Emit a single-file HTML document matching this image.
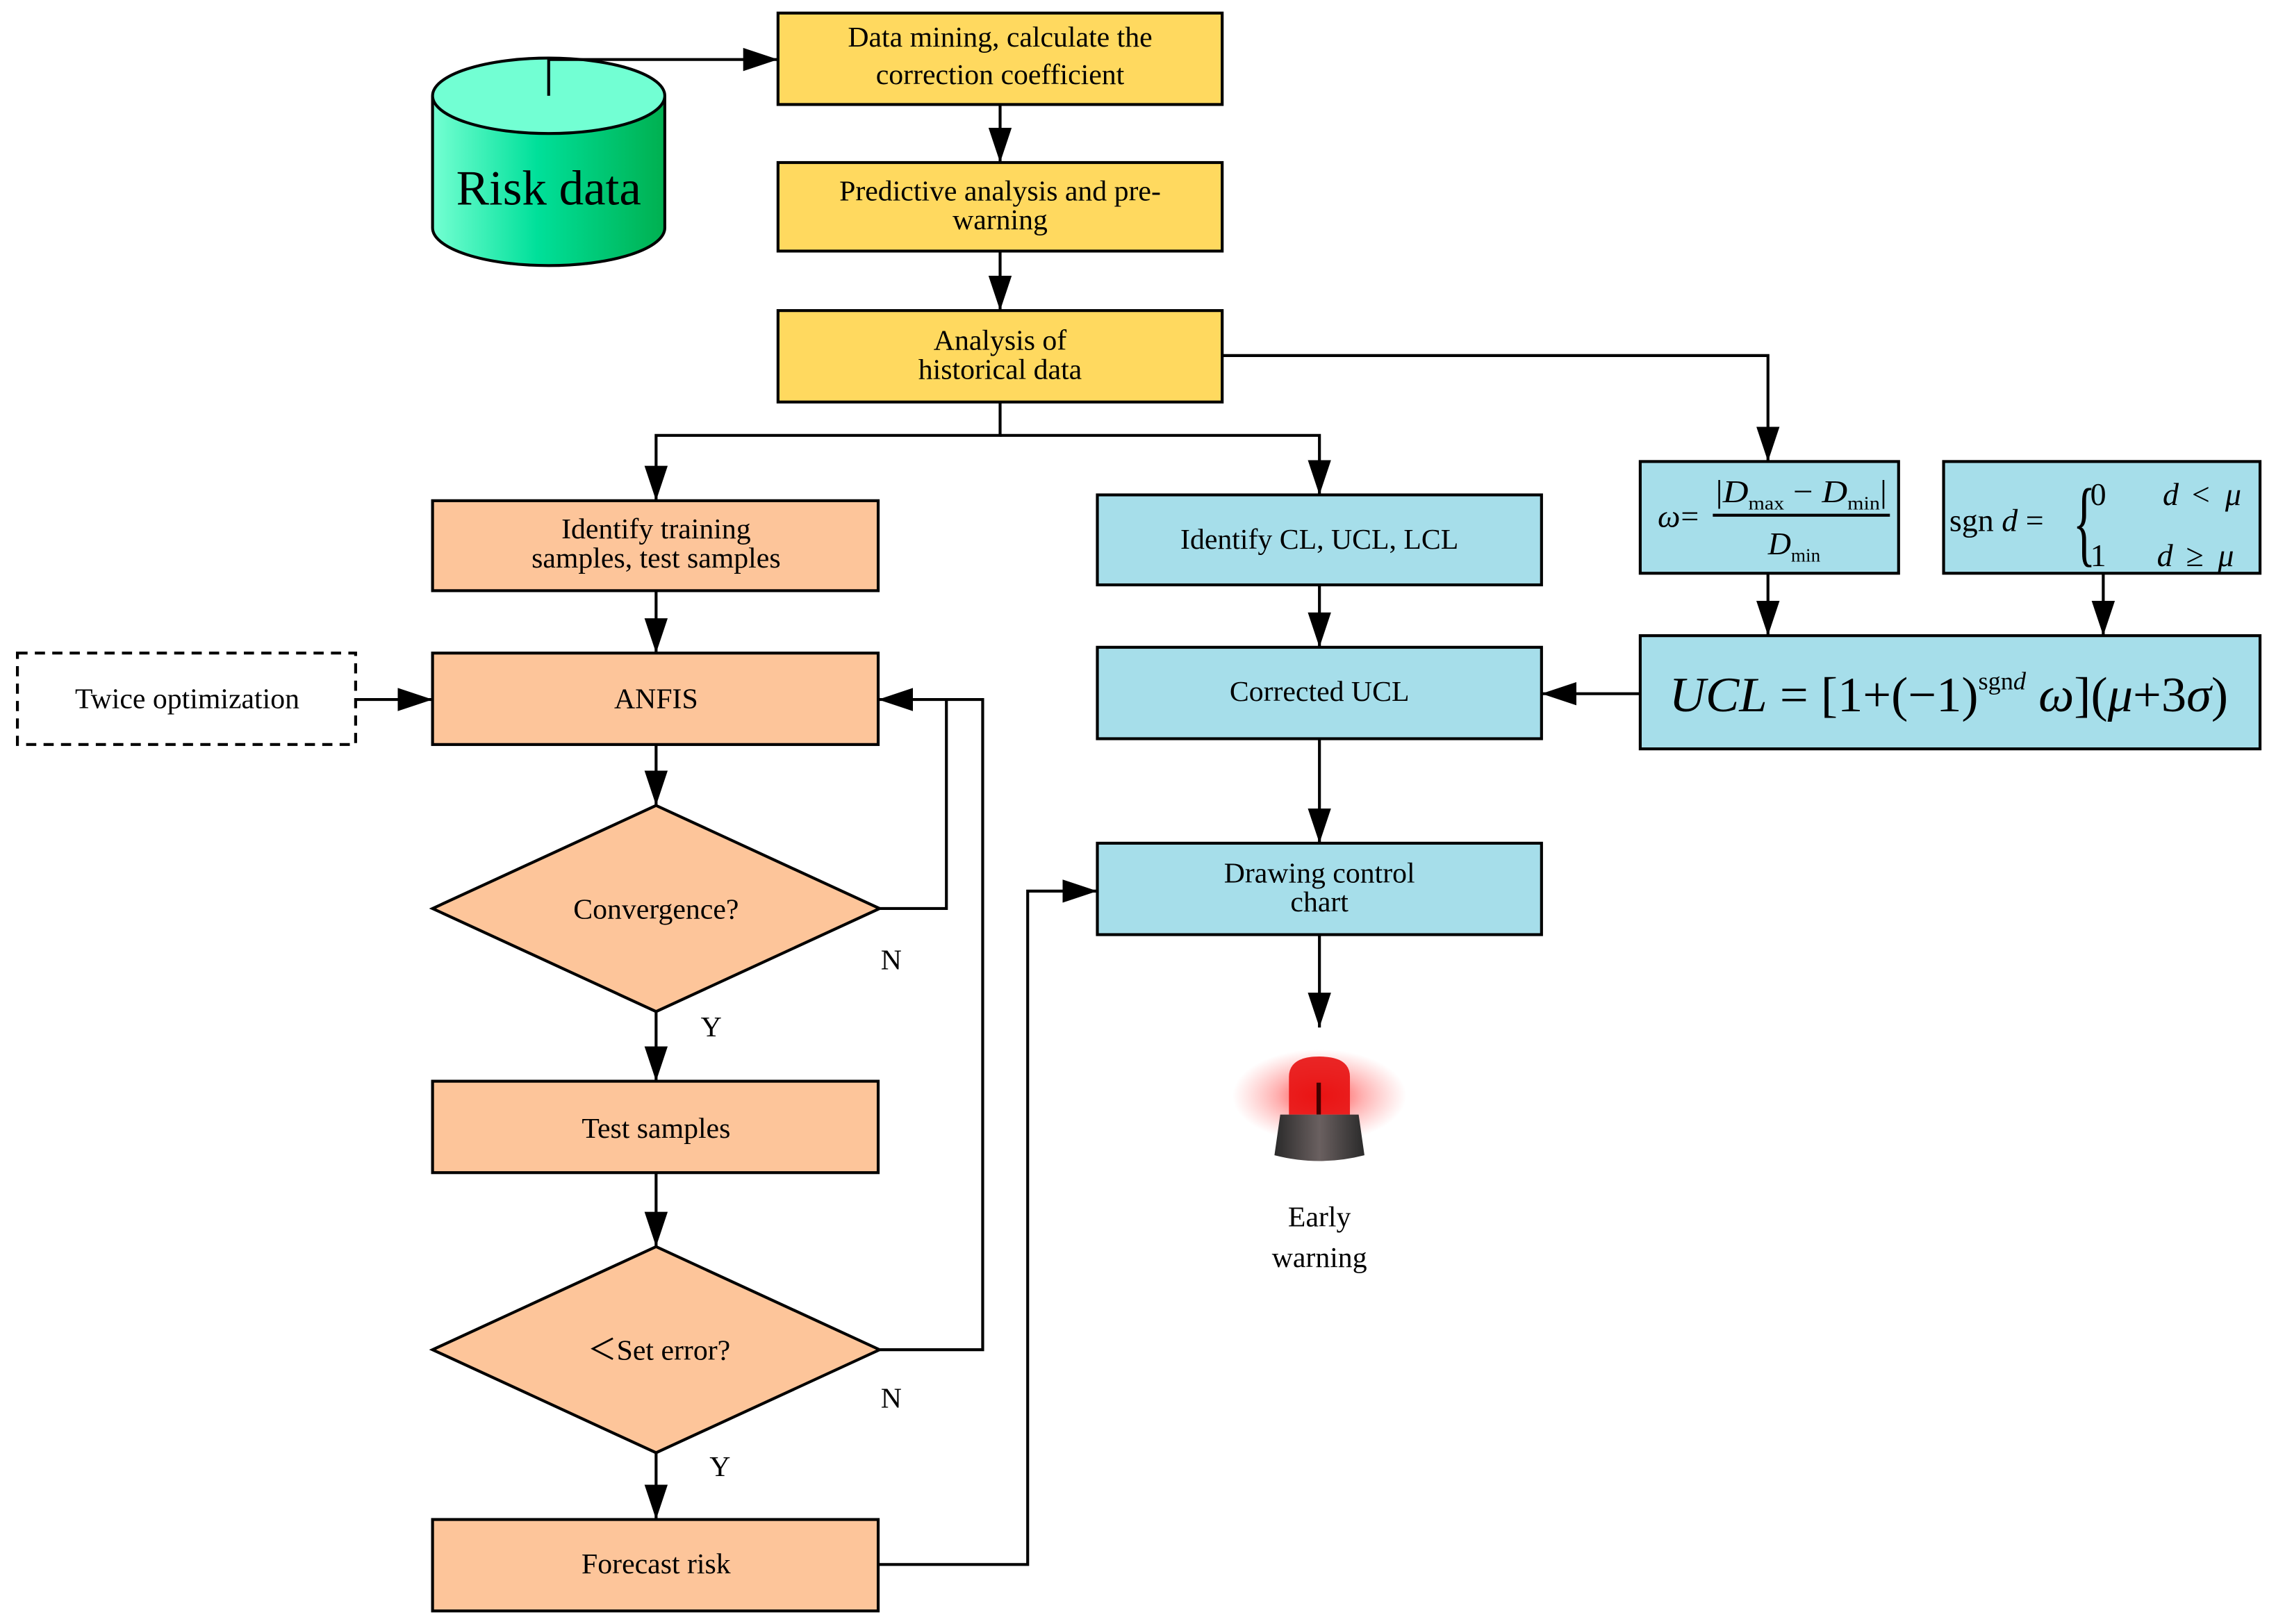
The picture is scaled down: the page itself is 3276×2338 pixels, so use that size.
<!DOCTYPE html>
<html><head><meta charset="utf-8"><style>
html,body{margin:0;padding:0;background:#fff;}
svg{display:block;}
text{font-family:"Liberation Serif",serif;fill:#000;}
</style></head><body>
<svg width="3276" height="2338" viewBox="0 0 1568 1119" preserveAspectRatio="none" xmlns="http://www.w3.org/2000/svg">
<defs>
<marker id="a" viewBox="0 0 24 16" refX="24" refY="8" markerWidth="24" markerHeight="16" markerUnits="userSpaceOnUse" orient="auto"><path d="M0,0 L24,8 L0,16 z" fill="#000"/></marker>
<linearGradient id="cyl" x1="0" x2="1" y1="0" y2="0">
<stop offset="0" stop-color="#74FFD2"/><stop offset="0.45" stop-color="#00E09A"/><stop offset="1" stop-color="#00B050"/></linearGradient>
<radialGradient id="glow" cx="0.5" cy="0.5" r="0.5"><stop offset="0" stop-color="#ff2020" stop-opacity="0.9"/><stop offset="0.5" stop-color="#ff4040" stop-opacity="0.4"/><stop offset="1" stop-color="#ff6060" stop-opacity="0"/></radialGradient>
<linearGradient id="base" x1="0" x2="1"><stop offset="0" stop-color="#2a2a2a"/><stop offset="0.5" stop-color="#6a6060"/><stop offset="1" stop-color="#2a2a2a"/></linearGradient>
</defs>
<g stroke="#000" stroke-width="2" fill="none">
<path d="M298,66 L298,157 A80,26 0 0 0 458,157 L458,66" fill="url(#cyl)"/>
<ellipse cx="378" cy="66" rx="80" ry="26" fill="#72FFD3"/>
<path d="M378,66 L378,41 L536,41" marker-end="url(#a)"/>
<rect x="536" y="9" width="306" height="63" fill="#FFD95F"/>
<rect x="536" y="112" width="306" height="61" fill="#FFD95F"/>
<rect x="536" y="214" width="306" height="63" fill="#FFD95F"/>
<path d="M689,72 L689,112" marker-end="url(#a)"/>
<path d="M689,173 L689,214" marker-end="url(#a)"/>
<path d="M842,245 L1218,245 L1218,318" marker-end="url(#a)"/>
<path d="M689,277 L689,300 L452,300 L452,345" marker-end="url(#a)"/>
<path d="M689,300 L909,300 L909,341" marker-end="url(#a)"/>
<rect x="298" y="345" width="307" height="62" fill="#FDC59A"/>
<rect x="298" y="450" width="307" height="63" fill="#FDC59A"/>
<rect x="12" y="450" width="233" height="63" fill="#fff" stroke-dasharray="7,5"/>
<path d="M245,482 L298,482" marker-end="url(#a)"/>
<path d="M452,407 L452,450" marker-end="url(#a)"/>
<path d="M452,513 L452,555" marker-end="url(#a)"/>
<polygon points="452,555 606,626 452,697 298,626" fill="#FDC59A"/>
<path d="M606,626 L652,626 L652,482 L605,482" marker-end="url(#a)"/>
<path d="M452,697 L452,745" marker-end="url(#a)"/>
<rect x="298" y="745" width="307" height="63" fill="#FDC59A"/>
<path d="M452,808 L452,859" marker-end="url(#a)"/>
<polygon points="452,859 606,930 452,1001 298,930" fill="#FDC59A"/>
<path d="M606,930 L677,930 L677,482 L652,482"/>
<path d="M452,1001 L452,1047" marker-end="url(#a)"/>
<rect x="298" y="1047" width="307" height="63" fill="#FDC59A"/>
<path d="M605,1078 L708,1078 L708,614 L756,614" marker-end="url(#a)"/>
<rect x="756" y="341" width="306" height="62" fill="#A6DEEA"/>
<rect x="756" y="446" width="306" height="63" fill="#A6DEEA"/>
<rect x="756" y="581" width="306" height="63" fill="#A6DEEA"/>
<rect x="1130" y="318" width="178" height="77" fill="#A6DEEA"/>
<rect x="1339" y="318" width="218" height="77" fill="#A6DEEA"/>
<rect x="1130" y="438" width="427" height="78" fill="#A6DEEA"/>
<path d="M909,403 L909,446" marker-end="url(#a)"/>
<path d="M909,509 L909,581" marker-end="url(#a)"/>
<path d="M909,644 L909,708" marker-end="url(#a)"/>
<path d="M1218,395 L1218,438" marker-end="url(#a)"/>
<path d="M1449,395 L1449,438" marker-end="url(#a)"/>
<path d="M1130,478 L1062,478" marker-end="url(#a)"/>
</g>
<ellipse cx="909" cy="755" rx="60" ry="32" fill="url(#glow)"/>
<path d="M888,768 L888,742 Q888,728 909,728 Q930,728 930,742 L930,768 z" fill="#e81010" opacity="0.9"/>
<rect x="907" y="746" width="3" height="22" fill="#400"/>
<path d="M882,768 L936,768 L940,796 Q909,804 878,796 z" fill="url(#base)"/>
<g font-size="20" text-anchor="middle">
<text x="378" y="141" font-size="34">Risk data</text>
<text x="689" y="32">Data mining, calculate the</text>
<text x="689" y="58">correction coefficient</text>
<text x="689" y="138">Predictive analysis and pre-</text>
<text x="689" y="158">warning</text>
<text x="689" y="241">Analysis of</text>
<text x="689" y="261">historical data</text>
<text x="452" y="371">Identify training</text>
<text x="452" y="391">samples, test samples</text>
<text x="452" y="488">ANFIS</text>
<text x="129" y="488">Twice optimization</text>
<text x="452" y="633">Convergence?</text>
<text x="614" y="668">N</text>
<text x="490" y="714">Y</text>
<text x="452" y="784">Test samples</text>
<text x="454" y="937">＜Set error?</text>
<text x="614" y="970">N</text>
<text x="496" y="1017">Y</text>
<text x="452" y="1084">Forecast risk</text>
<text x="909" y="378">Identify CL, UCL, LCL</text>
<text x="909" y="483">Corrected UCL</text>
<text x="909" y="608">Drawing control</text>
<text x="909" y="628">chart</text>
<text x="909" y="845">Early</text>
<text x="909" y="873">warning</text>
</g>
<g font-size="22">
<text x="1142" y="363" font-style="italic">ω</text><text x="1158" y="363">=</text>
<line x1="1180" y1="355" x2="1302" y2="355" stroke="#000" stroke-width="2"/>
<text x="1182" y="346" textLength="118" lengthAdjust="spacingAndGlyphs">|<tspan font-style="italic">D</tspan><tspan font-size="13" dy="5">max</tspan><tspan dy="-5"> − </tspan><tspan font-style="italic">D</tspan><tspan font-size="13" dy="5">min</tspan><tspan dy="-5">|</tspan></text>
<text x="1218" y="382" font-style="italic">D<tspan font-size="13" font-style="normal" dy="5">min</tspan></text>
<text x="1343" y="366">sgn <tspan font-style="italic">d</tspan> =</text>
<text x="1428" y="382" font-size="66" transform="translate(1428,0) scale(0.5,1) translate(-1428,0)">{</text>
<text x="1440" y="348">0</text><text x="1490" y="348" font-style="italic">d</text><text x="1510" y="348">&lt;</text><text x="1533" y="348" font-style="italic">μ</text>
<text x="1440" y="390">1</text><text x="1486" y="390" font-style="italic">d</text><text x="1506" y="390">≥</text><text x="1528" y="390" font-style="italic">μ</text>
<text x="1150" y="490" font-size="34" textLength="385" lengthAdjust="spacingAndGlyphs"><tspan font-style="italic">UCL</tspan> = [1+(−1)<tspan font-size="17" dy="-15">sgn<tspan font-style="italic">d</tspan></tspan><tspan dy="15" font-style="italic"> ω</tspan>](<tspan font-style="italic">μ</tspan>+3<tspan font-style="italic">σ</tspan>)</text>
</g>
</svg>
</body></html>
